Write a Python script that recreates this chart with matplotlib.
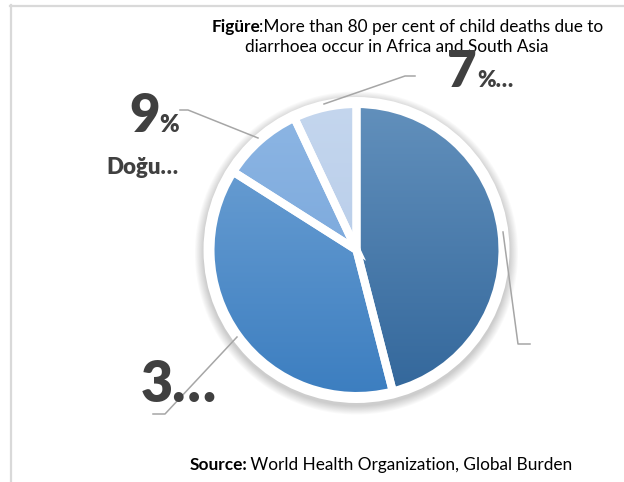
import numpy as np
import matplotlib
matplotlib.use("Agg")
import matplotlib.pyplot as plt
from matplotlib.patches import Circle
from matplotlib.lines import Line2D
from matplotlib.colors import LinearSegmentedColormap

# ---- data ----
values = [46, 38, 9, 7]
label_big = ["", "3\u2026", "9", "7"]
label_small = ["", "", "%", "%\u2026"]
label_category = ["", "", "Do\u011fu\u2026", ""]
title_bold = "Fig\u00fcre"
title_line1 = ":More than 80 per cent of child deaths due to"
title_line2 = "diarrhoea occur in Africa and South Asia"
source_bold = "Source:"
source_text = " World Health Organization, Global Burden"

# ---- style ----
FONT = ["Lato", "DejaVu Sans"]
plt.rcParams["font.family"] = FONT
grad_colors = [("#6290bc", "#33679b"),
               ("#72a4d6", "#3c7ec0"),
               ("#8db6e4", "#6f9fd6"),
               ("#c4d6ee", "#b0c7e6")]
label_color = "#404040"
leader_color = "#a6a6a6"

W, H = 624, 482
fig = plt.figure(figsize=(W / 100, H / 100), dpi=100)
ax = fig.add_axes([0, 0, 1, 1])
ax.set_xlim(0, W)
ax.set_ylim(H, 0)
ax.axis("off")

# frame lines
ax.add_line(Line2D([10, W], [5.5, 5.5], color="#d9d9d9", lw=1.6, zorder=1))
ax.add_line(Line2D([10.5, 10.5], [5, H], color="#d9d9d9", lw=1.6, zorder=1))

cx, cy = 356.5, 250.0
ring_r = 153
pie_r = 146

# shadow + white ring
for i in range(10):
    ax.add_patch(Circle((cx, cy + 3), ring_r + 0.5 + i * 0.9, facecolor="black",
                        edgecolor="none", alpha=0.02, zorder=1))
ax.add_patch(Circle((cx, cy), ring_r, facecolor="white", edgecolor="none", zorder=1.5))

wedges, _ = ax.pie(values, center=(cx, cy), radius=pie_r, startangle=-90,
                   counterclock=True, frame=True,
                   wedgeprops=dict(edgecolor="white", linewidth=5.8))
grad = np.linspace(0, 1, 256).reshape(-1, 1)
for w, (c0, c1) in zip(wedges, grad_colors):
    cmap = LinearSegmentedColormap.from_list("g", [c0, c1])
    im = ax.imshow(grad, cmap=cmap, extent=(cx - pie_r, cx + pie_r, cy + pie_r, cy - pie_r),
                   origin="upper", aspect="auto", zorder=2, interpolation="bilinear")
    im.set_clip_path(w)
    w.set_facecolor("none")
    w.set_zorder(3)

ax.set_xlim(0, W)
ax.set_ylim(H, 0)
ax.set_aspect("auto")
ax.axis("off")

# leader lines
leaders = [
    [(503, 232), (518, 344), (530, 344)],
    [(237, 337), (165, 414), (153, 414)],
    [(258, 138), (188, 110), (180, 110)],
    [(324, 104), (405, 76), (415, 76)],
]
for pts in leaders:
    xs, ys = zip(*pts)
    ax.add_line(Line2D(xs, ys, color=leader_color, lw=1.1, zorder=4))

renderer = fig.canvas.get_renderer()


def width_px(t):
    return t.get_window_extent(renderer=renderer).width


def fit_size(txt, target, weight="normal", start=10.0):
    t = ax.text(0, 0, txt, fontsize=start, fontweight=weight)
    wpx = width_px(t)
    t.remove()
    return start * target / wpx


# title
tsize = fit_size(title_bold + title_line1, 392)
t1 = ax.text(212, 32, title_bold, fontsize=tsize, fontweight="bold", ha="left",
             va="baseline", color="black", zorder=5)
ax.text(212 + width_px(t1) - 1.5, 32, title_line1, fontsize=tsize, ha="left",
        va="baseline", color="black", zorder=5)
ax.text(396.5, 52, title_line2, fontsize=tsize, ha="center", va="baseline",
        color="black", zorder=5)

# source
ssize = fit_size(source_bold + source_text, 382)
s1 = ax.text(190, 470, source_bold, fontsize=ssize, fontweight="bold", ha="left",
             va="baseline", color="black", zorder=5)
ax.text(190 + width_px(s1) - 1.5, 470, source_text, fontsize=ssize, ha="left",
        va="baseline", color="black", zorder=5)

# data labels
big_pos = [None, (141, 402), (129, 132), (447, 87)]
big_size = [0, 40, 38, 37]
small_size = [0, 0, 17, 16]
cat_pos = [None, None, (106, 174), None]
for i in range(len(values)):
    if big_pos[i] is None:
        continue
    bx, by = big_pos[i]
    tb = ax.text(bx, by, label_big[i], fontsize=big_size[i], fontweight="heavy",
                 color=label_color, ha="left", va="baseline", zorder=6)
    if label_small[i]:
        ax.text(bx + width_px(tb), by, label_small[i], fontsize=small_size[i],
                fontweight="heavy", color=label_color, ha="left", va="baseline", zorder=6)
    if cat_pos[i] is not None and label_category[i]:
        ax.text(cat_pos[i][0], cat_pos[i][1], label_category[i], fontsize=16,
                fontweight="heavy", color=label_color, ha="left", va="baseline", zorder=6)

fig.savefig("out.png", dpi=100)
